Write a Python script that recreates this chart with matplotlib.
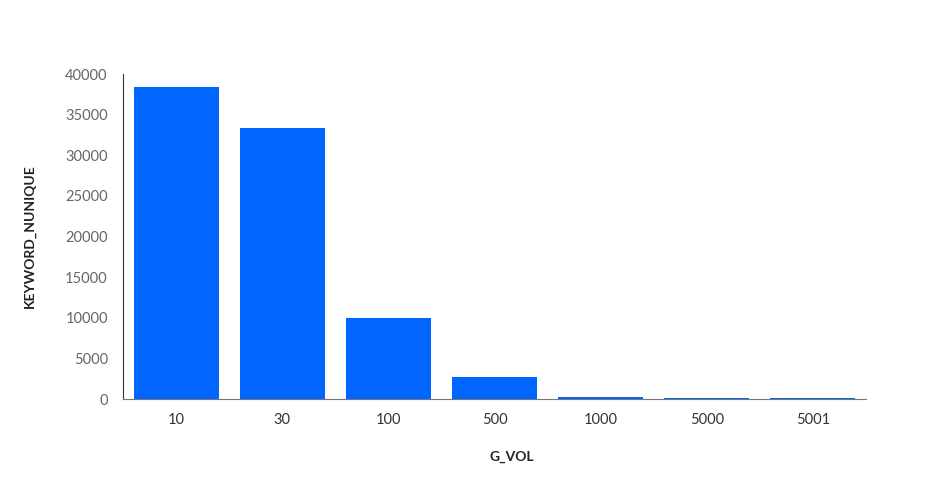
import matplotlib
matplotlib.use('Agg')
import matplotlib.pyplot as plt

# data
categories = ['10', '30', '100', '500', '1000', '5000', '5001']
counts = [38400, 33350, 9950, 2700, 250, 150, 80]

plt.rcParams['font.family'] = ['Lato', 'DejaVu Sans']

fig = plt.figure(figsize=(9.4, 4.95), dpi=100)
ax = fig.add_axes([0.1309, 0.1939, 0.7904, 0.6566])

ax.bar(range(len(categories)), counts, width=0.8, color='#0066ff')

ax.set_xlim(-0.5, 6.5)
ax.set_ylim(0, 40000)
ax.set_xticks(range(len(categories)))
ax.set_xticklabels(categories)
ax.set_yticks(range(0, 40001, 5000))

ax.tick_params(axis='both', length=0, labelsize=10.5)
ax.tick_params(axis='x', pad=10, labelcolor='#333333')
ax.tick_params(axis='y', pad=11, labelcolor='#666666')

for s in ['top', 'right']:
    ax.spines[s].set_visible(False)
ax.spines['left'].set_color('#333333')
ax.spines['bottom'].set_color('#777777')

ax.set_xlabel('G_VOL', fontsize=10, fontweight='bold', color='#222222', labelpad=17, x=0.523)
ax.set_ylabel('KEYWORD_NUNIQUE', fontsize=10, fontweight='bold', color='#222222', labelpad=21)

fig.savefig('out.png', dpi=100)
